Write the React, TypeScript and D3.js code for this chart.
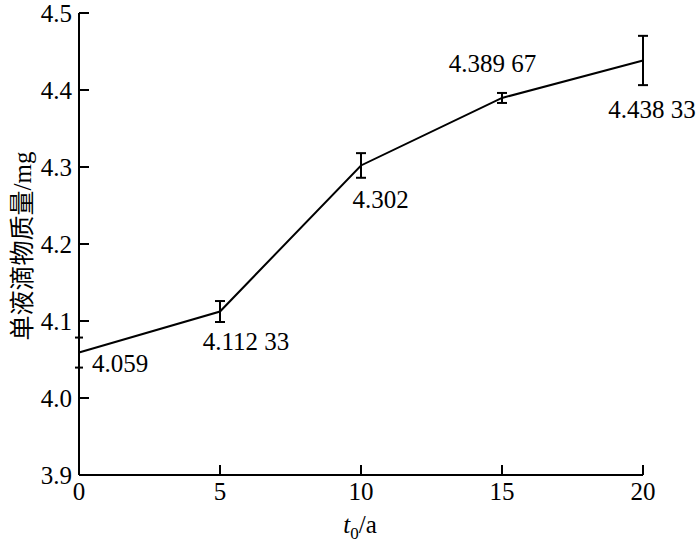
import React from "react";
import * as d3 from "d3";

const years = [0, 5, 10, 15, 20];
const mass = [4.059, 4.11233, 4.302, 4.38967, 4.43833];
const errors = [0.0195, 0.0136, 0.016, 0.0065, 0.032];
const pointLabels = ["4.059", "4.112 33", "4.302", "4.389 67", "4.438 33"];
const xTicks = [0, 5, 10, 15, 20];
const yTicks = [3.9, 4.0, 4.1, 4.2, 4.3, 4.4, 4.5];

// label placement (layout only), relative to the point: [dx, dy, anchor]
const labelPlacement: [number, number, string][] = [
  [13, 19, "start"],
  [26, 38.5, "middle"],
  [19.5, 43, "middle"],
  [-9.5, -26, "middle"],
  [9, 58, "middle"],
];

const W = 700;
const H = 551;
const left = 79;
const right = 643;
const top = 13;
const bottom = 475;
const serif = "Liberation Serif, DejaVu Serif, serif";
const txt: React.CSSProperties = { fontFamily: serif, whiteSpace: "pre" };

export default function App() {
  const x = d3.scaleLinear().domain([0, 20]).range([left, right]);
  const y = d3.scaleLinear().domain([3.9, 4.5]).range([bottom, top]);
  const line = d3
    .line<number>()
    .x((_, i) => x(years[i]))
    .y((d) => y(d));
  const fs = 25;

  return (
    <svg
      width={W}
      height={H}
      style={{ position: "absolute", left: 0, top: 0, background: "#fff", fontFamily: serif }}
    >
      <rect width={W} height={H} fill="#fff" />
      <line x1={left} x2={left} y1={top} y2={bottom} stroke="#000" strokeWidth={2} />
      <line x1={left} x2={right} y1={bottom} y2={bottom} stroke="#000" strokeWidth={2} />
      {yTicks.map((t) => (
        <g key={"y" + t}>
          <line x1={left} x2={left + 10} y1={y(t)} y2={y(t)} stroke="#000" strokeWidth={2} />
          <text
            x={left - 7}
            y={y(t) + 9}
            textAnchor="end"
            fontSize={fs}
            fill="#000"
            style={txt}
          >
            {t.toFixed(1)}
          </text>
        </g>
      ))}
      {xTicks.map((t) => (
        <g key={"x" + t}>
          <line x1={x(t)} x2={x(t)} y1={bottom} y2={bottom - 10} stroke="#000" strokeWidth={2} />
          <text x={x(t)} y={bottom + 25} textAnchor="middle" fontSize={fs} fill="#000" style={txt}>
            {t}
          </text>
        </g>
      ))}
      <path d={line(mass) || ""} fill="none" stroke="#000" strokeWidth={2} />
      {mass.map((m, i) => {
        const cx = x(years[i]);
        const y1 = y(m - errors[i]);
        const y2 = y(m + errors[i]);
        const hw = i === 0 ? 4 : 5;
        return (
          <g key={"e" + i} stroke="#000" strokeWidth={2}>
            <line x1={cx} x2={cx} y1={y1} y2={y2} />
            <line x1={cx - hw} x2={cx + hw} y1={y1} y2={y1} />
            <line x1={cx - hw} x2={cx + hw} y1={y2} y2={y2} />
          </g>
        );
      })}
      {mass.map((m, i) => {
        const [dx, dy, anchor] = labelPlacement[i];
        return (
          <text
            key={"l" + i}
            x={x(years[i]) + dx}
            y={y(m) + dy}
            textAnchor={anchor as any}
            fontSize={fs}
            fill="#000"
            style={txt}
          >
            {pointLabels[i]}
          </text>
        );
      })}
      <text x={360} y={533} textAnchor="middle" fontSize={fs} fill="#000" style={txt}>
        <tspan fontStyle="italic">t</tspan>
        <tspan fontSize={17} dy={6}>0</tspan>
        <tspan dy={-6}>/a</tspan>
      </text>
      <text
        transform="translate(31,246) rotate(-90)"
        textAnchor="middle"
        fontSize={fs}
        fill="#000"
        style={txt}
      >
        <tspan style={{ fontFamily: "Noto Sans CJK SC, sans-serif" }} fontSize={25}>单液滴物质量</tspan>
        <tspan>/mg</tspan>
      </text>
    </svg>
  );
}
